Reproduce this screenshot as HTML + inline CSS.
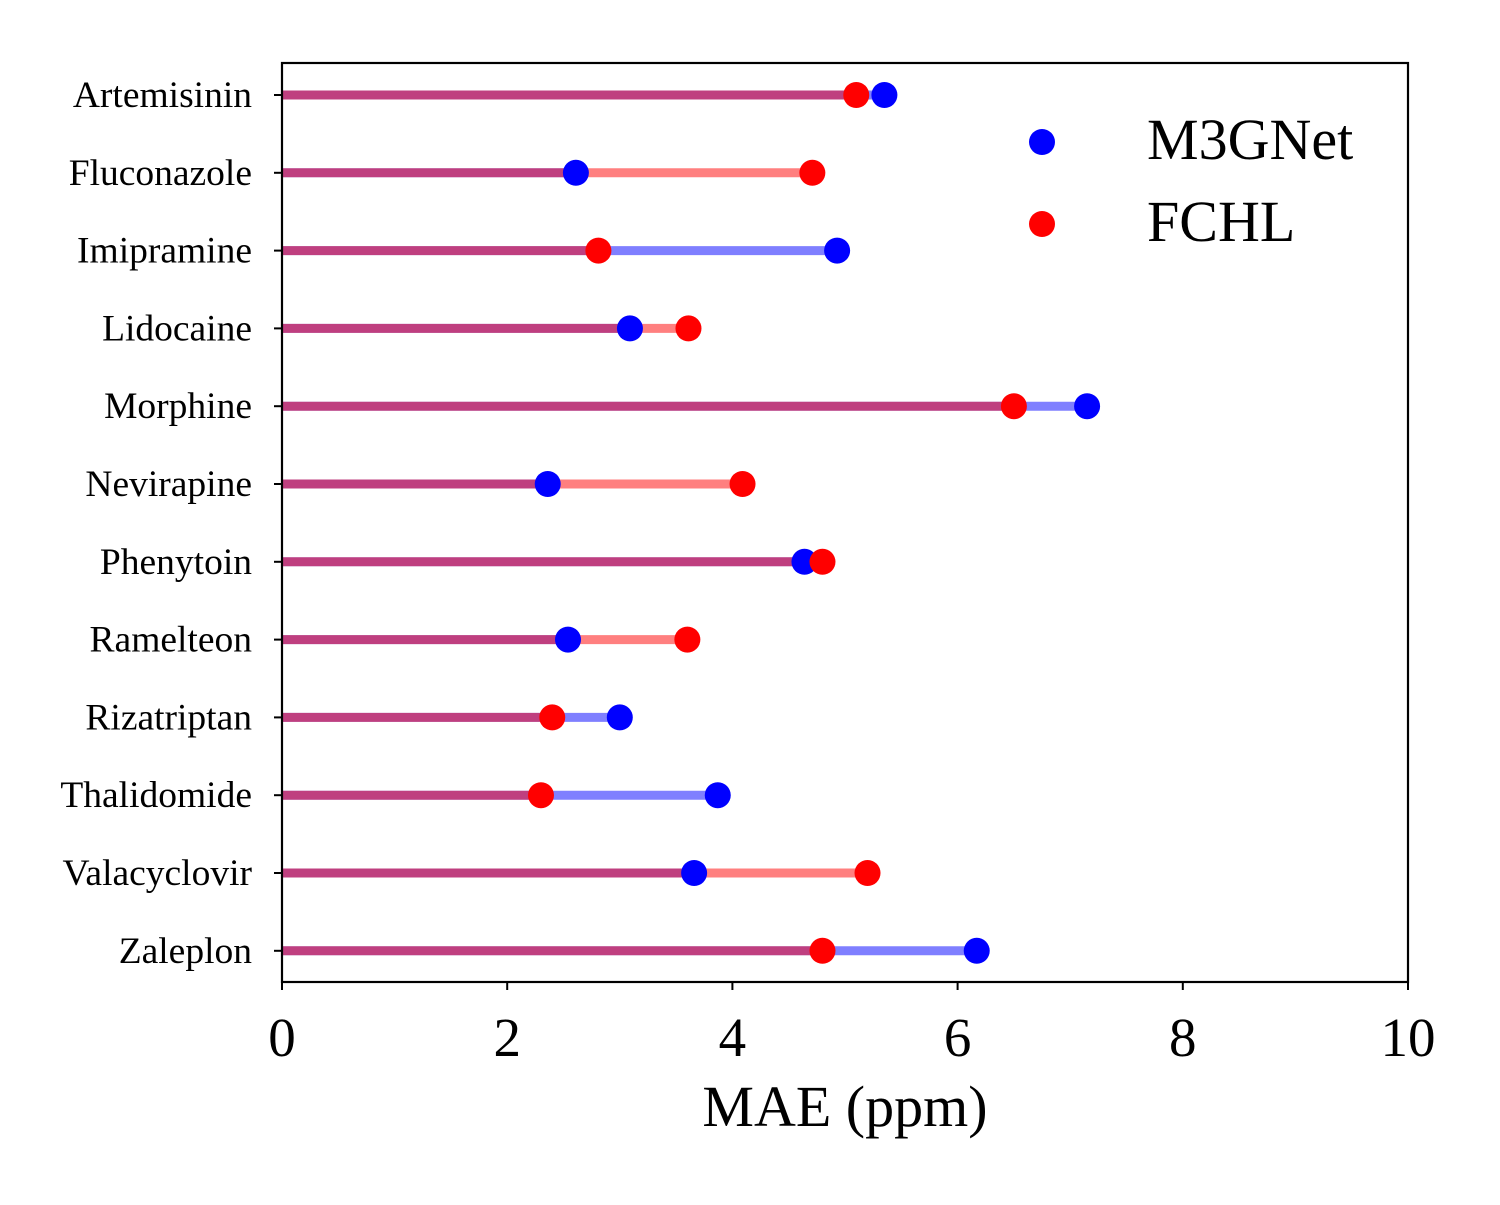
<!DOCTYPE html>
<html><head><meta charset="utf-8">
<style>
html,body{margin:0;padding:0;background:#fff;}
svg text{font-family:"Liberation Serif",serif;fill:#000;}
</style></head>
<body>
<svg id="chart" width="1500" height="1200" viewBox="0 0 1500 1200" xmlns="http://www.w3.org/2000/svg">
<rect x="0" y="0" width="1500" height="1200" fill="#fff"/>
<g id="marks"></g>
<rect x="282" y="63" width="1126" height="919" fill="none" stroke="#000" stroke-width="2.2"/>
<g id="axes"></g>
<g>
<circle cx="1042" cy="142" r="13" fill="#0000ff"/>
<text x="1147" y="159" font-size="58">M3GNet</text>
<circle cx="1042" cy="224" r="13" fill="#ff0000"/>
<text x="1147" y="241" font-size="58">FCHL</text>
</g>
<text x="845" y="1126" font-size="58" text-anchor="middle">MAE (ppm)</text>
</svg>
<script>
const categories = ["Artemisinin","Fluconazole","Imipramine","Lidocaine","Morphine","Nevirapine","Phenytoin","Ramelteon","Rizatriptan","Thalidomide","Valacyclovir","Zaleplon"];
const m3gnet = [5.35,2.61,4.93,3.09,7.15,2.36,4.64,2.54,3.00,3.87,3.66,6.17];
const fchl = [5.10,4.71,2.81,3.61,6.50,4.09,4.80,3.60,2.40,2.30,5.20,4.80];
const xTicks = [0,2,4,6,8,10];

const NS = "http://www.w3.org/2000/svg";
const X0 = 282, X1 = 1408, Y0 = 95, DY = 77.8;
function xScale(v){ return X0 + (v/10)*(X1-X0); }
function yScale(i){ return Y0 + i*DY; }
function mk(tag, attrs, parent){ const e=document.createElementNS(NS,tag); for(const k in attrs) e.setAttribute(k,attrs[k]); parent.appendChild(e); return e; }

const marks = document.getElementById("marks");
const axes = document.getElementById("axes");

categories.forEach((c,i)=>{
  const y = yScale(i);
  const lb = mk("line",{x1:xScale(0),x2:xScale(m3gnet[i]),y1:y,y2:y,stroke:"#0000ff","stroke-opacity":0.5,"stroke-width":9},marks);
  
  
  const lr = mk("line",{x1:xScale(0),x2:xScale(fchl[i]),y1:y,y2:y,stroke:"#ff0000","stroke-opacity":0.5,"stroke-width":9},marks);
  
  
});
categories.forEach((c,i)=>{
  const d = mk("circle",{cx:xScale(m3gnet[i]),cy:yScale(i),r:13,fill:"#0000ff"},marks);
  
  
});
categories.forEach((c,i)=>{
  const d = mk("circle",{cx:xScale(fchl[i]),cy:yScale(i),r:13,fill:"#ff0000"},marks);
  
  
});
categories.forEach((c,i)=>{
  const y = yScale(i);
  const t = mk("line",{x1:X0-8,x2:X0,y1:y,y2:y,stroke:"#000","stroke-width":2},axes);
  
  
  const l = mk("text",{x:252,y:y+12,"font-size":37.5,"text-anchor":"end"},axes);
  l.textContent = c;
  
  
});
xTicks.forEach(v=>{
  const x = xScale(v);
  const t = mk("line",{x1:x,x2:x,y1:982,y2:990,stroke:"#000","stroke-width":2},axes);
  
  
  const l = mk("text",{x:x,y:1056,"font-size":55,"text-anchor":"middle"},axes);
  l.textContent = v;
  
  
});
</script>
</body></html>
